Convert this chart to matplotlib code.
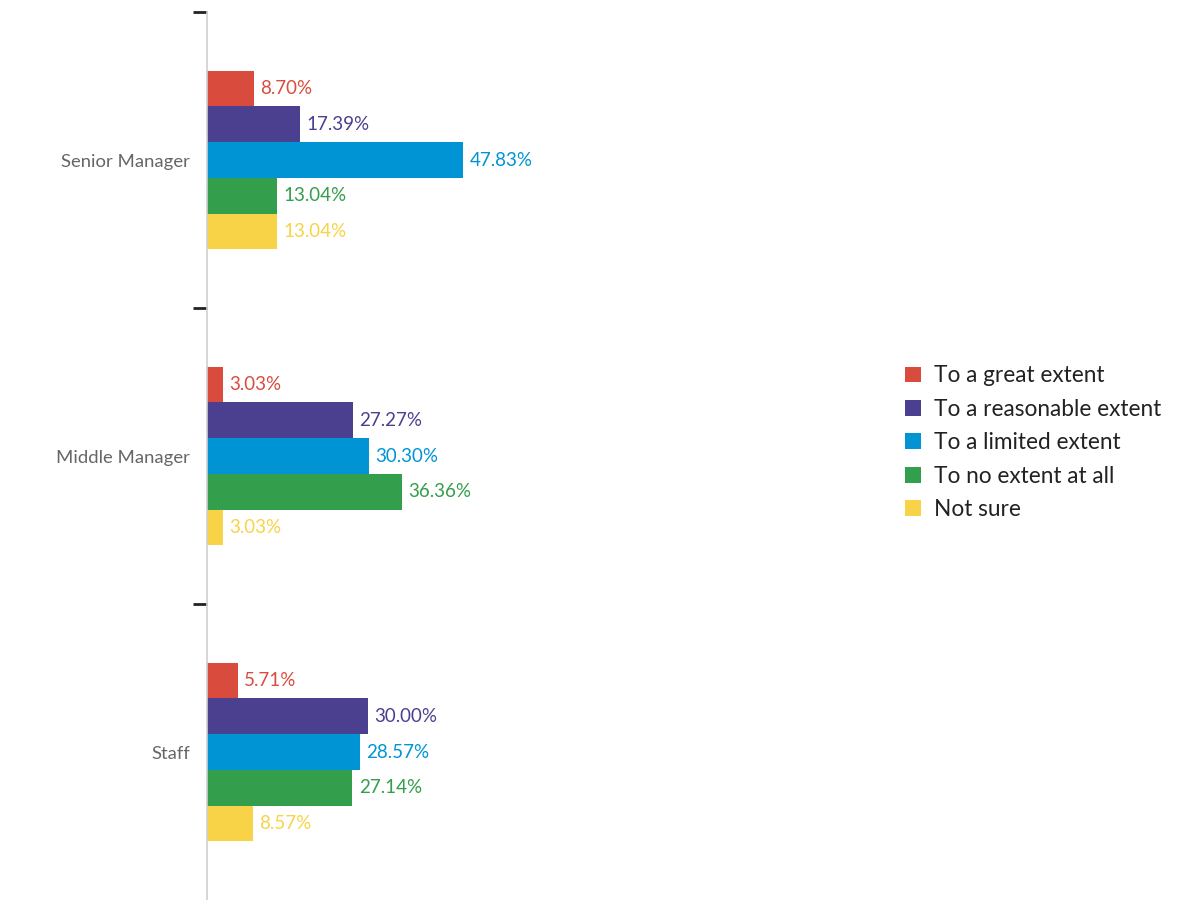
import numpy as np
import matplotlib.pyplot as plt
from matplotlib.patches import Patch

# data
categories = ["Senior Manager", "Middle Manager", "Staff"]
series = ["To a great extent", "To a reasonable extent", "To a limited extent",
          "To no extent at all", "Not sure"]
values = {
    "To a great extent": [8.70, 3.03, 5.71],
    "To a reasonable extent": [17.39, 27.27, 30.00],
    "To a limited extent": [47.83, 30.30, 28.57],
    "To no extent at all": [13.04, 36.36, 27.14],
    "Not sure": [13.04, 3.03, 8.57],
}
colors = ["#D94C3D", "#4B3F8F", "#0094D4", "#339E4B", "#F8D348"]

plt.rcParams['font.family'] = ['Lato', 'DejaVu Sans']

fig = plt.figure(figsize=(11.81, 9), dpi=100)
ax = fig.add_axes([207 / 1181, 0, 535 / 1181, 1 - 12 / 900])

bar_h = 0.1206
y = np.arange(len(categories))
for i, (name, col) in enumerate(zip(series, colors)):
    pos = y + (i - 2) * bar_h
    vals = values[name]
    ax.barh(pos, vals, height=bar_h, color=col)
    for p, v in zip(pos, vals):
        ax.text(v + 1.2, p, f"{v:.2f}%", color=col, va="center", ha="left", fontsize=13.5)

ax.set_xlim(0, 100)
ax.set_ylim(2.5, -0.5)

for s in ["top", "right", "bottom"]:
    ax.spines[s].set_visible(False)
ax.spines["left"].set_color("#d0d0d0")
ax.spines["left"].set_linewidth(1.2)

ax.set_xticks([])
ax.set_yticks([-0.5, 0.5, 1.5])
ax.set_yticklabels([])
ax.tick_params(axis="y", which="major", length=10, width=2, color="#222222")
ax.set_yticks(y, minor=True)
ax.set_yticklabels(categories, minor=True, fontsize=13.3, color="#666666")
ax.tick_params(axis="y", which="minor", length=0, pad=12)

handles = [Patch(facecolor=c, label=s) for s, c in zip(series, colors)]
fig.legend(handles=handles, loc="upper left", bbox_to_anchor=(885 / 1181, 1 - 345 / 900),
           frameon=False, fontsize=16.3, handlelength=0.7, handleheight=0.7,
           handletextpad=0.55, labelspacing=0.55, labelcolor="#222222")

fig.savefig("out.png", dpi=100)
